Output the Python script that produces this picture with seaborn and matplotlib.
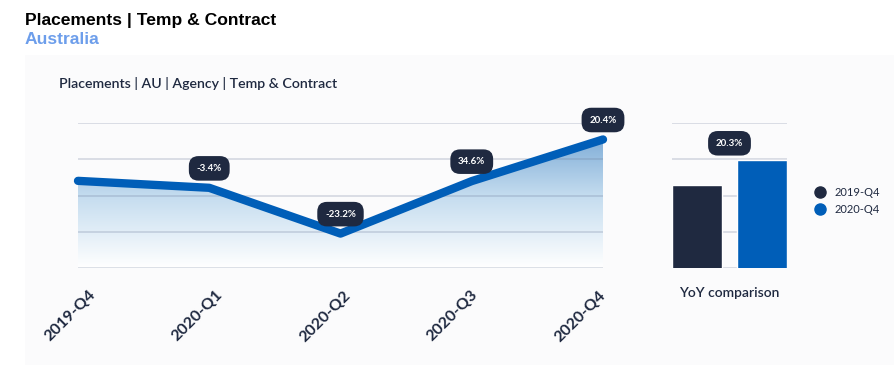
import numpy as np
import pandas as pd
import seaborn as sns
import matplotlib.pyplot as plt
from matplotlib.patches import Rectangle
from matplotlib.lines import Line2D

# data
quarters = ['2019-Q4', '2020-Q1', '2020-Q2', '2020-Q3', '2020-Q4']
placements = [5736, 5541, 4256, 5729, 6898]
qoq_labels = ['', '-3.4%', '-23.2%', '34.6%', '20.4%']

yoy_quarters = ['2019-Q4', '2020-Q4']
yoy_values = [5736, 6898]
yoy_label = '20.3%'

navy = '#1f2940'
blue = '#005eb8'

sns.set_style('white')
plt.rcParams['font.family'] = ['Lato', 'DejaVu Sans']

fig = plt.figure(figsize=(8.95, 3.65), dpi=100)

# light card behind the charts
fig.patches.append(Rectangle((25 / 895, 0), 1, 310 / 365, transform=fig.transFigure,
                             facecolor='#fbfbfc', edgecolor='none', zorder=-10))

fig.text(25 / 895, 1 - 20 / 365, 'Placements | Temp & Contract', fontsize=12.6,
         fontweight='bold', family='Liberation Sans', color='black', va='center')
fig.text(25 / 895, 1 - 40 / 365, 'Australia', fontsize=12.6, fontweight='bold',
         family='Liberation Sans', color='#6d9eeb', va='center')
fig.text(59 / 895, 1 - 83 / 365, 'Placements | AU | Agency | Temp & Contract',
         fontsize=10.2, color=navy, va='center', fontweight='semibold')

# ---- line chart ----
ax = fig.add_axes([78 / 895, 97 / 365, 525 / 895, 145 / 365])
df = pd.DataFrame({'quarter': quarters, 'placements': placements})
x = np.arange(len(quarters))
ymin, ymax = 3290, 7360

sns.lineplot(data=df, x='quarter', y='placements', ax=ax, color=blue, lw=6,
             solid_capstyle='round', zorder=5, clip_on=False)

# gradient fill under the line
poly = ax.fill_between(x, placements, ymin, color='none')
grad = np.linspace(1, 0, 256).reshape(-1, 1)
img = ax.imshow(grad, extent=[0, len(quarters) - 1, ymin, ymax], aspect='auto',
                cmap=sns.blend_palette(['#ffffff', '#c4dcef', '#6fa2d2'], as_cmap=True),
                vmin=0, vmax=1, origin='upper', zorder=1)
img.set_clip_path(poly.get_paths()[0], transform=ax.transData)

ax.set_xlim(0, len(quarters) - 1)
ax.set_ylim(ymin, ymax)
for gy in np.linspace(ymin, ymax, 5):
    ax.axhline(gy, color='#6b7a99', alpha=0.25, lw=1.3, zorder=3)

box = dict(boxstyle='round,pad=0.8,rounding_size=1.0', fc=navy, ec='none')
for xi, yi, lab in zip(x, placements, qoq_labels):
    if lab:
        ax.annotate(lab, (xi, yi), xytext=(0, 14), textcoords='offset points',
                    ha='center', va='center', fontsize=7, fontweight='bold',
                    color='white', zorder=10, annotation_clip=False, bbox=box)

# rotated quarter labels (spaced slightly tighter than the points, as in the original)
ax.set_xticks(x)
ax.set_xticklabels([])
for i, (xi, q) in enumerate(zip(x, quarters)):
    ax.annotate(q, (xi, 0), xycoords=('data', 'axes fraction'),
                xytext=((15 - 3.75 * i) * 0.72, -25 * 0.72), textcoords='offset points',
                rotation=45, ha='right', va='center', rotation_mode='anchor',
                fontsize=11.5, fontweight='bold', color=navy, annotation_clip=False)
ax.tick_params(axis='x', length=0)
ax.set_yticks([])
ax.set_xlabel('')
ax.set_ylabel('')
sns.despine(ax=ax, left=True, bottom=True)
ax.patch.set_alpha(0)

# ---- YoY bars ----
axb = fig.add_axes([672 / 895, 97 / 365, 115 / 895, 145 / 365])
dfb = pd.DataFrame({'quarter': yoy_quarters, 'placements': yoy_values})
sns.barplot(data=dfb, x='quarter', y='placements', hue='quarter', saturation=1,
            palette=[navy, blue], width=0.77, ax=axb, legend=False, zorder=4)
bmin, bmax = 1816, 8636
axb.set_ylim(bmin, bmax)
axb.set_xlim(-0.385, 1.385)
for gy in np.linspace(bmin, bmax, 5):
    axb.axhline(gy, color='#6b7a99', alpha=0.25, lw=1.3, zorder=3)
axb.annotate(yoy_label, (0.5, max(yoy_values)), xytext=(0, 12),
             textcoords='offset points', ha='center', va='center', fontsize=7,
             fontweight='bold', color='white', zorder=10, annotation_clip=False,
             bbox=box)
axb.set_xticks([])
axb.set_yticks([])
axb.set_xlabel('')
axb.set_ylabel('')
sns.despine(ax=axb, left=True, bottom=True)
axb.patch.set_alpha(0)

fig.text(729 / 895, 1 - 293 / 365, 'YoY comparison', ha='center', va='center',
         fontsize=10, color=navy, fontweight='semibold')

handles = [Line2D([], [], marker='o', ls='', ms=8, color=c) for c in [navy, blue]]
fig.legend(handles, yoy_quarters, loc='center left',
           bbox_to_anchor=(799 / 895, 1 - 201 / 365), frameon=False, fontsize=8,
           handletextpad=0.3, labelspacing=0.6, labelcolor=navy)

fig.savefig('out.png', dpi=100)
